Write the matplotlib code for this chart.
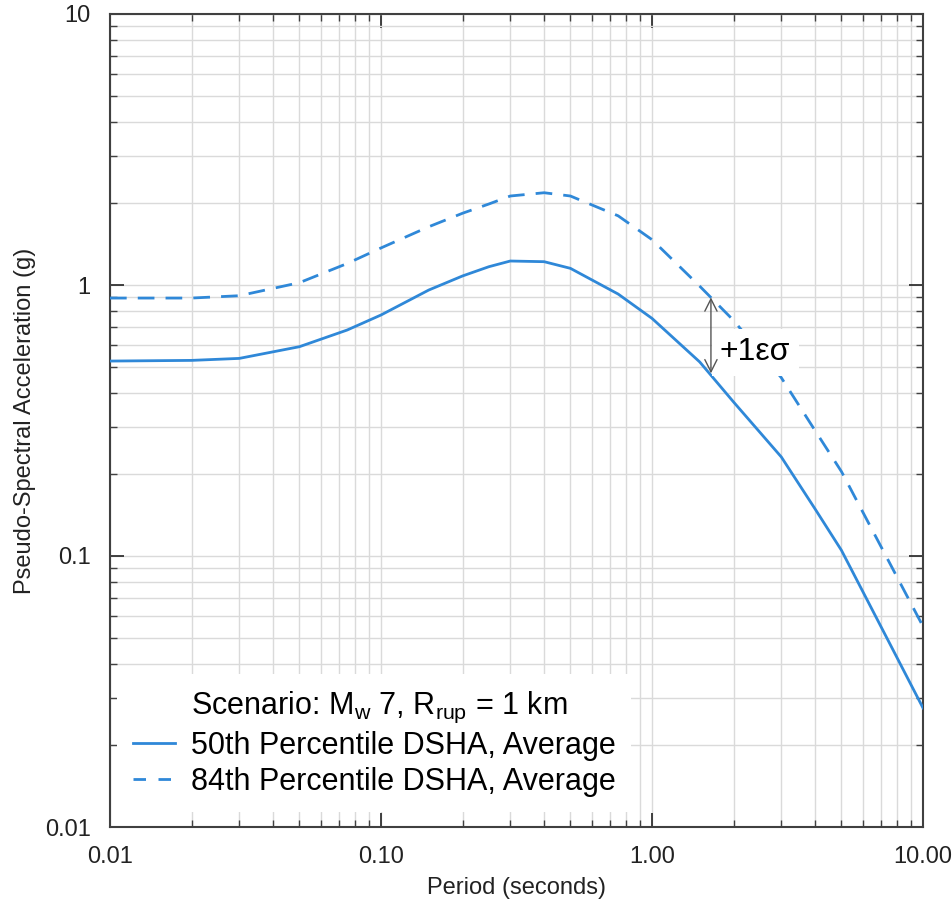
import matplotlib
matplotlib.use("Agg")
import matplotlib.pyplot as plt
from matplotlib.lines import Line2D
from matplotlib.ticker import LogLocator, NullFormatter

plt.rcParams['font.family'] = ['Liberation Sans', 'DejaVu Sans']
plt.rcParams['mathtext.fontset'] = 'custom'
plt.rcParams['mathtext.rm'] = 'Liberation Sans'
plt.rcParams['mathtext.it'] = 'Liberation Sans'

# ---- data ----
periods = [0.01, 0.02, 0.03, 0.05, 0.075, 0.1, 0.15, 0.2, 0.25, 0.3, 0.4, 0.5,
           0.75, 1.0, 1.5, 2.0, 3.0, 4.0, 5.0, 7.5, 10.0]
sa_50 = [0.524, 0.527, 0.536, 0.592, 0.682, 0.775, 0.958, 1.08, 1.168, 1.226, 1.219, 1.152,
         0.926, 0.753, 0.52, 0.37, 0.232, 0.149, 0.105, 0.048, 0.0275]
sa_84 = [0.895, 0.895, 0.913, 1.02, 1.20, 1.37, 1.64, 1.84, 1.99, 2.13, 2.19, 2.13,
         1.80, 1.47, 0.99, 0.74, 0.455, 0.29, 0.205, 0.095, 0.055]
label_50 = "50th Percentile DSHA, Average"
label_84 = "84th Percentile DSHA, Average"
scenario = r"Scenario: M$_{\mathrm{w}}$ 7, R$_{\mathrm{rup}}$ = 1 km"
xticks = [0.01, 0.1, 1.0, 10.0]
xtick_labels = ["0.01", "0.10", "1.00", "10.00"]
yticks = [0.01, 0.1, 1.0, 10.0]
ytick_labels = ["0.01", "0.1", "1", "10"]
arrow_T = 1.65
arrow_lo, arrow_hi = 0.472, 0.90
eps_label = "+1εσ"

color = '#2f88d8'

fig = plt.figure(figsize=(9.53, 9.02), dpi=100)
ax = fig.add_axes([110/953, 75/902, 813/953, 813/902])

ax.plot(periods, sa_50, color=color, lw=2.0, solid_joinstyle='round', zorder=3)
ax.plot(periods, sa_84, color=color, lw=2.0, dashes=(6, 4), zorder=3)

ax.set_xscale('log')
ax.set_yscale('log')
ax.set_xlim(0.01, 10)
ax.set_ylim(0.01, 10)

ax.set_xticks(xticks, xtick_labels)
ax.set_yticks(yticks, ytick_labels)
ax.xaxis.set_minor_locator(LogLocator(base=10, subs=range(2, 10)))
ax.yaxis.set_minor_locator(LogLocator(base=10, subs=range(2, 10)))
ax.xaxis.set_minor_formatter(NullFormatter())
ax.yaxis.set_minor_formatter(NullFormatter())

ax.grid(True, which='both', color='#dadada', lw=1.0, zorder=0)
ax.set_axisbelow(True)

ax.tick_params(which='both', direction='in', top=True, right=True, color='#404040')
ax.tick_params(which='major', length=10, width=1.2, labelsize=17, pad=14, colors='#222222')
ax.tick_params(which='minor', length=5, width=1.0)
for sp in ax.spines.values():
    sp.set_color('#404040')
    sp.set_linewidth(1.5)

ax.set_xlabel("Period (seconds)", fontsize=17, color='#222222', labelpad=6)
ax.set_ylabel("Pseudo-Spectral Acceleration (g)", fontsize=17, color='#222222', labelpad=6)

# annotation arrow (above the white text box)
ax.annotate('', xy=(arrow_T, arrow_lo), xytext=(arrow_T, arrow_hi),
            arrowprops=dict(arrowstyle='<->', color='#555555', lw=1.0,
                            mutation_scale=22, shrinkA=0, shrinkB=0), zorder=7)
ax.text(1.78, 0.565, eps_label, fontsize=23, color='black', ha='left', va='center',
        bbox=dict(facecolor='white', edgecolor='none', pad=6), zorder=6)

handles = [Line2D([], [], color='none'),
           Line2D([], [], color=color, lw=2.0),
           Line2D([], [], color=color, lw=2.0, dashes=(4.5, 4.5))]
labels = [scenario, label_50, label_84]
leg = ax.legend(handles, labels, loc='lower left', bbox_to_anchor=(0.009, 0.018),
                borderaxespad=0, fontsize=22, frameon=True, facecolor='white',
                edgecolor='none', framealpha=1, fancybox=False,
                handlelength=1.4, handletextpad=0.5, labelspacing=0.2,
                borderpad=0.5)
leg.set_zorder(10)

fig.savefig("out.png", dpi=100, facecolor='white')
